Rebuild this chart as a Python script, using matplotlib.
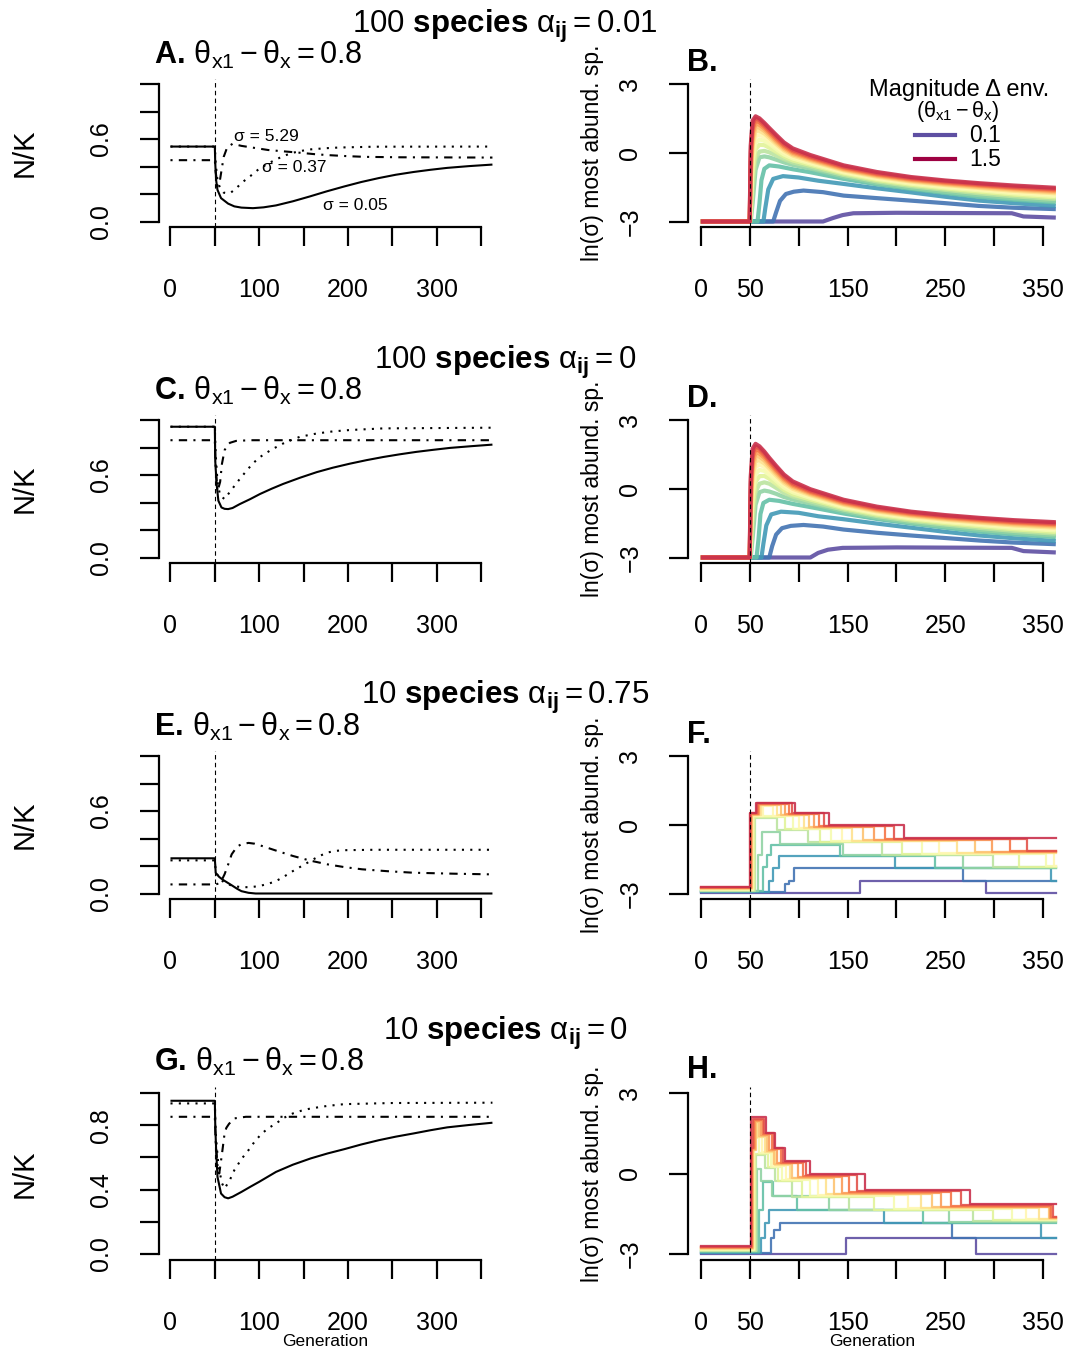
import matplotlib
matplotlib.use("Agg")
import matplotlib.pyplot as plt

# ------------------------------------------------------------------ data
magnitudes = [0.1, 0.2, 0.3, 0.4, 0.5, 0.6, 0.7, 0.8, 0.9, 1.0, 1.1, 1.2, 1.3, 1.4, 1.5]
sigma_labels = ["σ = 0.05", "σ = 0.37", "σ = 5.29"]
row_titles = [r"$\mathrm{100}\ \mathbf{species}\ \mathrm{\alpha}_{\mathbf{ij}} = \mathrm{0.01}$",
              r"$\mathrm{100}\ \mathbf{species}\ \mathrm{\alpha}_{\mathbf{ij}} = \mathrm{0}$",
              r"$\mathrm{10}\ \mathbf{species}\ \mathrm{\alpha}_{\mathbf{ij}} = \mathrm{0.75}$",
              r"$\mathrm{10}\ \mathbf{species}\ \mathrm{\alpha}_{\mathbf{ij}} = \mathrm{0}$"]
left_letters = ["A.", "C.", "E.", "G."]
right_letters = ["B.", "D.", "F.", "H."]
x_ticks = [0, 50, 100, 150, 200, 250, 300, 350]
x_labels_left = ["0", "", "100", "", "200", "", "300", ""]
x_labels_right = ["0", "50", "", "150", "", "250", "", "350"]
y_ticks_left = [0.0, 0.2, 0.4, 0.6, 0.8, 1.0]
y_labels_left = ["0.0", "", "", "0.6", "", ""]
y_labels_left_last = ["0.0", "", "0.4", "", "0.8", ""]
y_ticks_right = [-3, 0, 3]
y_labels_right = ["\u22123", "0", "3"]

# ---- panel A (100 sp, alpha 0.01)
A_solid_gen = [0, 50, 50.5, 51.5, 53, 57, 65, 72, 80, 93, 105, 119, 138, 157, 176, 196, 215, 235, 254, 274, 293, 312, 337, 363]
A_solid = [0.545, 0.545, 0.42, 0.30, 0.23, 0.17, 0.13, 0.11, 0.101, 0.097, 0.103, 0.117, 0.147, 0.182, 0.219, 0.255, 0.287, 0.316, 0.34, 0.36, 0.376, 0.39, 0.403, 0.414]
A_dot_gen = [0, 50, 51, 53, 56, 60, 64, 68, 74, 80, 90, 99, 109, 119, 128, 138, 148, 157, 175, 190, 230, 363]
A_dot = [0.545, 0.545, 0.42, 0.30, 0.24, 0.21, 0.205, 0.21, 0.24, 0.28, 0.33, 0.378, 0.418, 0.451, 0.478, 0.50, 0.514, 0.524, 0.533, 0.538, 0.544, 0.545]
A_dd_gen = [0, 50, 51, 53, 55, 57, 60, 64, 70, 80, 95, 110, 128, 146, 162, 177, 200, 220, 260, 363]
A_dd = [0.446, 0.446, 0.36, 0.26, 0.27, 0.35, 0.47, 0.54, 0.565, 0.55, 0.535, 0.52, 0.51, 0.50, 0.49, 0.483, 0.475, 0.47, 0.467, 0.465]

# ---- panel C (100 sp, alpha 0)
C_solid_gen = [0, 50, 50.5, 52, 54, 57.5, 61, 65, 70, 78, 90, 101, 114, 127, 146, 165, 183, 202, 221, 240, 258, 277, 296, 315, 340, 363]
C_solid = [0.951, 0.951, 0.70, 0.535, 0.413, 0.364, 0.354, 0.352, 0.36, 0.388, 0.425, 0.462, 0.50, 0.535, 0.58, 0.621, 0.653, 0.682, 0.708, 0.731, 0.75, 0.768, 0.783, 0.797, 0.81, 0.821]
C_dot_gen = [0, 50, 51, 53, 56, 61, 65, 71, 78, 86, 93, 101, 114, 127, 137, 146, 165, 183, 202, 240, 363]
C_dot = [0.951, 0.951, 0.75, 0.55, 0.45, 0.425, 0.46, 0.511, 0.57, 0.633, 0.685, 0.731, 0.785, 0.829, 0.856, 0.878, 0.902, 0.917, 0.927, 0.939, 0.944]
C_dd_gen = [0, 50, 51, 53, 56, 58, 61, 64, 67, 74, 90, 363]
C_dd = [0.853, 0.853, 0.65, 0.48, 0.55, 0.68, 0.78, 0.815, 0.834, 0.848, 0.853, 0.853]

# ---- panel E (10 sp, alpha 0.75)
E_solid_gen = [0, 50, 51, 55, 59, 64, 69, 75, 80, 88, 96, 363]
E_solid = [0.256, 0.256, 0.15, 0.12, 0.10, 0.08, 0.06, 0.035, 0.017, 0.005, 0.0, 0.0]
E_dot_gen = [0, 50, 51, 55, 61, 70, 80, 90, 100, 110, 119, 128, 138, 148, 158, 167, 177, 186, 196, 230, 363]
E_dot = [0.241, 0.241, 0.16, 0.11, 0.078, 0.055, 0.046, 0.046, 0.054, 0.07, 0.09, 0.123, 0.163, 0.20, 0.237, 0.27, 0.298, 0.31, 0.315, 0.318, 0.318]
E_dd_gen = [0, 50, 53, 58, 61, 65, 69, 75, 80, 88, 95, 103, 120, 138, 157, 177, 196, 216, 245, 274, 320, 363]
E_dd = [0.066, 0.066, 0.07, 0.10, 0.14, 0.21, 0.285, 0.34, 0.359, 0.368, 0.362, 0.346, 0.31, 0.273, 0.24, 0.212, 0.192, 0.176, 0.162, 0.151, 0.144, 0.139]

# ---- panel G (10 sp, alpha 0)
G_solid_gen = [0, 50, 50.5, 51.5, 53, 57, 61, 65, 70, 80, 90, 100, 119, 138, 158, 177, 196, 215, 235, 254, 274, 293, 312, 337, 363]
G_solid = [0.954, 0.954, 0.80, 0.646, 0.479, 0.375, 0.352, 0.345, 0.355, 0.385, 0.417, 0.448, 0.51, 0.555, 0.594, 0.625, 0.652, 0.681, 0.708, 0.73, 0.75, 0.77, 0.788, 0.803, 0.817]
G_dot_gen = [0, 50, 51, 54, 58, 61, 67, 72, 80, 88, 95, 103, 111, 119, 128, 138, 148, 158, 177, 196, 250, 363]
G_dot = [0.9375, 0.9375, 0.75, 0.55, 0.44, 0.406, 0.46, 0.521, 0.59, 0.646, 0.70, 0.75, 0.785, 0.8125, 0.848, 0.875, 0.893, 0.906, 0.922, 0.933, 0.94, 0.942]
G_dd_gen = [0, 50, 51, 53, 55, 58, 61, 63, 66, 72, 85, 363]
G_dd = [0.854, 0.854, 0.70, 0.55, 0.50, 0.62, 0.75, 0.785, 0.81, 0.844, 0.854, 0.854]

# ---- panel B: ln(sigma) of the most abundant species, one row per magnitude
B_gen = [
    [0, 125, 135, 145, 156, 200, 318, 330, 363],
    [0, 74, 77, 81, 87, 95, 105, 125, 146, 180, 215, 250, 284, 320, 363],
    [0, 64, 66, 69, 74, 84, 100, 120, 146, 180, 215, 250, 285, 320, 363],
    [0, 58, 60, 62, 65, 70, 80, 94, 112, 146, 180, 215, 250, 285, 320, 363],
] + [[0, 50, 51, 53, 56, 60, 65, 70, 77, 85, 94, 112, 146, 180, 215, 250, 285, 320, 363]] * 11
B_val = [
    [-3, -3, -2.85, -2.72, -2.64, -2.62, -2.64, -2.78, -2.83],
    [-3, -3, -2.6, -2.1, -1.8, -1.70, -1.65, -1.72, -1.87, -1.98, -2.09, -2.2, -2.32, -2.4, -2.46],
    [-3, -3, -2.4, -1.6, -1.14, -1.02, -1.08, -1.22, -1.36, -1.55, -1.73, -1.92, -2.09, -2.2, -2.32],
    [-3, -3, -2.2, -1.2, -0.7, -0.55, -0.6, -0.72, -0.85, -1.14, -1.38, -1.58, -1.76, -1.93, -2.05, -2.17],
    [-3, -3, -3, -2.2, -0.75, -0.20, -0.16, -0.20, -0.30, -0.42, -0.53, -0.69, -1.04, -1.32, -1.53, -1.70, -1.85, -1.98, -2.10],
    [-3, -3, -2.9, -1.5, -0.25, 0.05, 0.08, 0.02, -0.12, -0.28, -0.42, -0.60, -0.97, -1.25, -1.46, -1.62, -1.77, -1.90, -2.02],
    [-3, -3, -2.7, -0.9, 0.15, 0.35, 0.33, 0.22, 0.04, -0.16, -0.33, -0.53, -0.91, -1.19, -1.40, -1.56, -1.70, -1.83, -1.95],
    [-3, -3, -2.4, -0.4, 0.45, 0.58, 0.52, 0.39, 0.17, -0.07, -0.25, -0.47, -0.86, -1.14, -1.35, -1.51, -1.64, -1.77, -1.89],
    [-3, -3, -2.0, 0.0, 0.72, 0.78, 0.70, 0.53, 0.28, 0.02, -0.18, -0.41, -0.82, -1.10, -1.30, -1.46, -1.59, -1.71, -1.83],
    [-3, -3, -1.6, 0.3, 0.95, 0.96, 0.84, 0.65, 0.38, 0.10, -0.12, -0.36, -0.77, -1.05, -1.26, -1.41, -1.54, -1.66, -1.77],
    [-3, -3, -1.2, 0.6, 1.12, 1.10, 0.95, 0.75, 0.46, 0.17, -0.06, -0.31, -0.73, -1.01, -1.22, -1.37, -1.50, -1.61, -1.72],
    [-3, -3, -0.8, 0.85, 1.27, 1.22, 1.05, 0.84, 0.54, 0.24, 0.00, -0.26, -0.69, -0.97, -1.18, -1.33, -1.45, -1.56, -1.67],
    [-3, -3, -0.4, 1.05, 1.40, 1.33, 1.14, 0.92, 0.62, 0.31, 0.06, -0.21, -0.64, -0.93, -1.14, -1.29, -1.41, -1.52, -1.62],
    [-3, -3, 0.0, 1.25, 1.50, 1.42, 1.22, 1.00, 0.70, 0.38, 0.12, -0.16, -0.60, -0.89, -1.10, -1.25, -1.37, -1.48, -1.58],
    [-3, -3, 0.3, 1.40, 1.59, 1.50, 1.30, 1.08, 0.78, 0.45, 0.19, -0.10, -0.55, -0.84, -1.06, -1.21, -1.33, -1.43, -1.53],
]

# ---- panel D
D_gen = [
    [0, 112, 120, 130, 145, 200, 318, 330, 363],
    [0, 70, 73, 77, 83, 92, 105, 125, 146, 180, 215, 250, 285, 320, 363],
    [0, 62, 64, 67, 72, 82, 100, 120, 146, 180, 215, 250, 285, 320, 363],
    [0, 57, 59, 61, 64, 70, 80, 94, 112, 146, 180, 215, 250, 285, 320, 363],
] + [[0, 50, 51, 53, 56, 60, 65, 70, 77, 85, 94, 112, 146, 180, 215, 250, 285, 320, 363]] * 11
D_val = [
    [-3, -3, -2.8, -2.66, -2.58, -2.56, -2.58, -2.72, -2.78],
    [-3, -3, -2.5, -2.0, -1.72, -1.62, -1.58, -1.65, -1.78, -1.92, -2.04, -2.15, -2.26, -2.35, -2.42],
    [-3, -3, -2.4, -1.6, -1.12, -1.0, -1.05, -1.2, -1.33, -1.52, -1.70, -1.88, -2.04, -2.16, -2.28],
    [-3, -3, -2.2, -1.1, -0.62, -0.48, -0.53, -0.66, -0.80, -1.08, -1.32, -1.52, -1.70, -1.87, -1.99, -2.11],
    [-3, -3, -3, -2.15, -0.70, -0.15, -0.08, -0.12, -0.22, -0.36, -0.47, -0.64, -0.98, -1.26, -1.47, -1.64, -1.79, -1.92, -2.04],
    [-3, -3, -2.85, -1.45, -0.15, 0.22, 0.28, 0.22, 0.04, -0.18, -0.34, -0.55, -0.91, -1.19, -1.40, -1.56, -1.71, -1.84, -1.96],
    [-3, -3, -2.6, -0.85, 0.30, 0.55, 0.56, 0.44, 0.21, -0.05, -0.24, -0.47, -0.85, -1.13, -1.34, -1.50, -1.64, -1.77, -1.89],
    [-3, -3, -2.2, -0.3, 0.65, 0.82, 0.78, 0.61, 0.35, 0.06, -0.15, -0.40, -0.80, -1.08, -1.29, -1.45, -1.58, -1.71, -1.82],
    [-3, -3, -1.8, 0.15, 0.95, 1.05, 0.96, 0.76, 0.47, 0.16, -0.07, -0.34, -0.75, -1.04, -1.24, -1.40, -1.53, -1.65, -1.76],
    [-3, -3, -1.4, 0.55, 1.20, 1.24, 1.11, 0.89, 0.58, 0.25, 0.00, -0.28, -0.70, -0.99, -1.20, -1.35, -1.48, -1.60, -1.70],
    [-3, -3, -1.0, 0.88, 1.41, 1.40, 1.24, 1.00, 0.67, 0.33, 0.07, -0.23, -0.66, -0.95, -1.16, -1.31, -1.44, -1.55, -1.65],
    [-3, -3, -0.6, 1.15, 1.58, 1.54, 1.35, 1.10, 0.76, 0.41, 0.13, -0.18, -0.62, -0.91, -1.12, -1.27, -1.39, -1.50, -1.60],
    [-3, -3, -0.2, 1.38, 1.73, 1.66, 1.45, 1.19, 0.84, 0.48, 0.19, -0.13, -0.57, -0.87, -1.08, -1.23, -1.35, -1.46, -1.55],
    [-3, -3, 0.2, 1.58, 1.85, 1.76, 1.54, 1.27, 0.92, 0.55, 0.25, -0.08, -0.53, -0.83, -1.04, -1.19, -1.31, -1.42, -1.51],
    [-3, -3, 0.5, 1.75, 1.96, 1.85, 1.62, 1.35, 1.00, 0.62, 0.32, -0.02, -0.48, -0.78, -1.00, -1.15, -1.27, -1.37, -1.46],
]

# ---- panel F: step series (generation where each level starts, level)
F_t = [
    [0, 163, 292],
    [0, 86, 90, 95, 268],
    [0, 70, 74, 80, 199, 358],
    [0, 64, 68, 72, 142, 239],
    [0, 58, 63, 81, 145, 268],
    [0, 55, 78, 110, 185, 299],
    [0, 54, 86, 122, 206, 325],
    [0, 53, 94, 133, 226, 353],
    [0, 53, 64, 74, 100, 144, 244, 361],
    [0, 52, 62, 78, 106, 155, 262],
    [0, 52, 60, 82, 111, 166, 280],
    [0, 51, 59, 86, 116, 177, 298],
    [0, 51, 58, 90, 121, 188, 316],
    [0, 50, 57, 93, 126, 198, 334],
    [0, 50, 56, 96, 131, 208],
]
F_v = [
    [-2.97, -2.44, -2.97],
    [-2.95, -2.60, -2.44, -1.90, -2.44],
    [-2.93, -2.44, -1.87, -1.38, -1.90, -2.44],
    [-2.91, -1.85, -1.33, -0.89, -1.38, -1.90],
    [-2.89, -1.30, -0.30, -0.82, -1.33, -1.88],
    [-2.88, 0.30, -0.21, -0.77, -1.30, -1.86],
    [-2.86, 0.34, -0.19, -0.75, -1.28, -1.84],
    [-2.84, 0.38, -0.17, -0.73, -1.26, -1.82],
    [-2.82, 0.40, 0.84, 0.40, -0.15, -0.71, -1.24, -1.80],
    [-2.80, 0.42, 0.86, 0.42, -0.13, -0.69, -1.22],
    [-2.78, 0.44, 0.88, 0.44, -0.11, -0.67, -1.20],
    [-2.76, 0.46, 0.90, 0.46, -0.09, -0.65, -1.18],
    [-2.74, 0.48, 0.92, 0.48, -0.07, -0.63, -1.16],
    [-2.72, 0.50, 0.94, 0.50, -0.05, -0.61, -1.14],
    [-2.70, 0.52, 0.96, 0.52, -0.03, -0.59],
]

# ---- panel H
H_t = [
    [0, 148, 281],
    [0, 72, 75, 81, 257],
    [0, 62, 66, 70, 187, 348],
    [0, 60, 64, 74, 98, 227],
    [0, 57, 62, 73, 131, 254],
    [0, 56, 66, 76, 93, 152, 278],
    [0, 55, 69, 79, 103, 177, 299],
    [0, 54, 60, 72, 83, 112, 198, 318],
    [0, 54, 63, 74, 87, 120, 212, 332],
    [0, 53, 57, 66, 76, 91, 128, 225, 346],
    [0, 53, 56, 60, 68, 75, 93, 136, 236, 356],
    [0, 52, 55, 62, 70, 78, 99, 144, 246, 357],
    [0, 52, 54, 64, 73, 82, 104, 152, 256, 358],
    [0, 51, 53, 65, 75, 84, 108, 160, 266, 360],
    [0, 51, 67, 76, 86, 112, 168, 275],
]
H_v = [
    [-3.0, -2.43, -3.0],
    [-2.98, -2.43, -2.10, -1.86, -2.43],
    [-2.96, -2.43, -1.84, -1.36, -1.84, -2.43],
    [-2.94, -1.35, -0.30, -0.85, -1.37, -1.84],
    [-2.92, 0.17, -0.28, -0.85, -1.36, -1.80],
    [-2.90, 0.70, 0.20, -0.28, -0.87, -1.36, -1.78],
    [-2.88, 0.73, 0.23, -0.27, -0.87, -1.35, -1.76],
    [-2.86, 1.32, 0.76, 0.26, -0.24, -0.84, -1.33, -1.74],
    [-2.84, 1.35, 0.79, 0.29, -0.21, -0.81, -1.31, -1.72],
    [-2.82, 1.90, 1.38, 0.82, 0.32, -0.18, -0.78, -1.29, -1.70],
    [-2.80, 0.88, 1.94, 1.41, 0.85, 0.35, -0.15, -0.75, -1.27, -1.68],
    [-2.78, 0.91, 1.98, 1.44, 0.88, 0.38, -0.12, -0.72, -1.25, -1.66],
    [-2.76, 0.94, 2.02, 1.47, 0.91, 0.41, -0.09, -0.69, -1.22, -1.64],
    [-2.74, 0.97, 2.06, 1.50, 0.94, 0.44, -0.06, -0.66, -1.19, -1.62],
    [-2.72, 2.10, 1.53, 0.97, 0.47, -0.03, -0.63, -1.16],
]
GEN_END = 363

# ------------------------------------------------------------------ style
plt.rcParams['font.family'] = ['Liberation Sans', 'DejaVu Sans']
plt.rcParams['mathtext.fontset'] = 'custom'
plt.rcParams['mathtext.rm'] = 'Liberation Sans'
plt.rcParams['mathtext.it'] = 'Liberation Sans:italic'
plt.rcParams['mathtext.bf'] = 'Liberation Sans:bold'
plt.rcParams['mathtext.sf'] = 'Liberation Sans'

W, H = 1070, 1348
fig = plt.figure(figsize=(W / 100, H / 100), dpi=100)
fig.patch.set_facecolor('white')

def px(x, y):
    return x / W, 1 - y / H

def add_ax(x0, x1, ytop, ybot):
    return fig.add_axes([x0 / W, 1 - ybot / H, (x1 - x0) / W, (ybot - ytop) / H])

LW_AX = 1.6
def style(ax, xlabels, yticks, ylabels, ybounds):
    ax.set_xlim(-13.5, 377.5)
    ax.patch.set_visible(False)
    for s in ('top', 'right'):
        ax.spines[s].set_visible(False)
    ax.spines['left'].set_bounds(*ybounds)
    ax.spines['bottom'].set_bounds(0, 350)
    for s in ('left', 'bottom'):
        ax.spines[s].set_linewidth(LW_AX)
    ax.set_xticks(x_ticks)
    ax.set_xticklabels(xlabels)
    ax.set_yticks(yticks)
    ax.set_yticklabels(ylabels)
    ax.tick_params(axis='both', direction='out', length=13.5, width=LW_AX, labelsize=18)
    ax.tick_params(axis='x', pad=23)
    ax.tick_params(axis='y', pad=19, labelrotation=90)
    for lbl in ax.get_yticklabels():
        lbl.set_va('center')

cmap = plt.get_cmap('Spectral_r')
line_colors = [cmap(0.92 * i / (len(magnitudes) - 1)) for i in range(len(magnitudes))]
legend_colors = [cmap(0.0), cmap(1.0)]

left_x0, left_x1 = 158.5, 505.3
right_x0, right_x1 = 687.6, 1070.0
rows = [(78.5, 227.0), (414.5, 563.0), (750.5, 899.0), (1087.0, 1260.0)]
title_base = [33, 369, 704, 1040]
letter_base = [64, 400, 736, 1071]
rletter_base = [71, 407, 743, 1078]

left_data = [
    (A_solid_gen, A_solid, A_dot_gen, A_dot, A_dd_gen, A_dd),
    (C_solid_gen, C_solid, C_dot_gen, C_dot, C_dd_gen, C_dd),
    (E_solid_gen, E_solid, E_dot_gen, E_dot, E_dd_gen, E_dd),
    (G_solid_gen, G_solid, G_dot_gen, G_dot, G_dd_gen, G_dd),
]

for r, (yt, yb) in enumerate(rows):
    # ---------------- left panel
    ax = add_ax(left_x0, left_x1, yt, yb)
    ax.set_ylim(-0.04, 1.04)
    sg, sv, dg, dv, ddg, ddv = left_data[r]
    lw = 1.5
    ax.plot(sg, sv, color='black', lw=lw, solid_capstyle='butt', solid_joinstyle='round')
    ax.plot(dg, dv, color='black', lw=lw, linestyle=(0, (1, 3)))
    ax.plot(ddg, ddv, color='black', lw=lw, linestyle=(0, (1, 3, 4, 3)))
    ax.axvline(50, color='black', lw=0.8, linestyle=(0, (4, 3)))
    style(ax, x_labels_left, y_ticks_left,
          y_labels_left_last if r == 3 else y_labels_left, (0, 1))
    if r == 0:
        ax.text(208, 0.12, sigma_labels[0], fontsize=12.5, ha='center', va='center')
        ax.text(139, 0.396, sigma_labels[1], fontsize=12.5, ha='center', va='center')
        ax.text(108, 0.615, sigma_labels[2], fontsize=12.5, ha='center', va='center')
    fig.text(*px(154, letter_base[r]),
             r"$\mathbf{%s}\,\mathrm{\theta_{x1} - \theta_{x} = 0.8}$" % left_letters[r],
             fontsize=22, ha='left', va='baseline')
    fig.text(*px(25, (yt + yb) / 2), "N/K", fontsize=21, rotation=90,
             ha='center', va='center')

    # ---------------- right panel
    ax2 = add_ax(right_x0, right_x1, yt, yb)
    ax2.set_ylim(-3.24, 3.24)
    if r < 2:
        gens, vals = (B_gen, B_val) if r == 0 else (D_gen, D_val)
        for k in range(len(magnitudes)):
            ax2.plot(gens[k], vals[k], color=line_colors[k], lw=3.0, alpha=0.9,
                     solid_joinstyle='round', solid_capstyle='butt')
    else:
        ts, vs = (F_t, F_v) if r == 2 else (H_t, H_v)
        for k in range(len(magnitudes)):
            t = ts[k] + [GEN_END]
            v = vs[k] + [vs[k][-1]]
            ax2.step(t, v, where='post', color=line_colors[k], lw=1.6, alpha=0.9)
    ax2.axvline(50, color='black', lw=0.8, linestyle=(0, (4, 3)))
    style(ax2, x_labels_right, y_ticks_right, y_labels_right, (-3, 3))
    fig.text(*px(687, rletter_base[r]), right_letters[r], fontsize=22,
             fontweight='bold', ha='left', va='baseline')
    fig.text(*px(592, (yt + yb) / 2), "ln(σ) most abund. sp.", fontsize=16.5,
             rotation=90, ha='center', va='center')

    # ---------------- row title
    fig.text(*px(505, title_base[r]), row_titles[r], fontsize=22.5,
             ha='center', va='baseline')

# legend of panel B
fig.text(*px(959, 90), "Magnitude Δ env.", fontsize=17, ha='center', va='center')
fig.text(*px(958, 111), r"$\mathrm{(\theta_{x1} - \theta_{x})}$", fontsize=15.5,
         ha='center', va='center')
for yy, col, lab in [(135, legend_colors[0], "0.1"), (159, legend_colors[1], "1.5")]:
    fig.add_artist(plt.Line2D([915 / W, 955 / W], [1 - yy / H, 1 - yy / H],
                              color=col, lw=3.0, transform=fig.transFigure))
    fig.text(*px(969, yy + 1), lab, fontsize=16.5, ha='left', va='center')

# x axis titles (bottom row)
fig.text(*px(325, 1346), "Generation", fontsize=12.5, ha='center', va='baseline')
fig.text(*px(872, 1346), "Generation", fontsize=12.5, ha='center', va='baseline')

fig.savefig("out.png", dpi=100, facecolor='white')
